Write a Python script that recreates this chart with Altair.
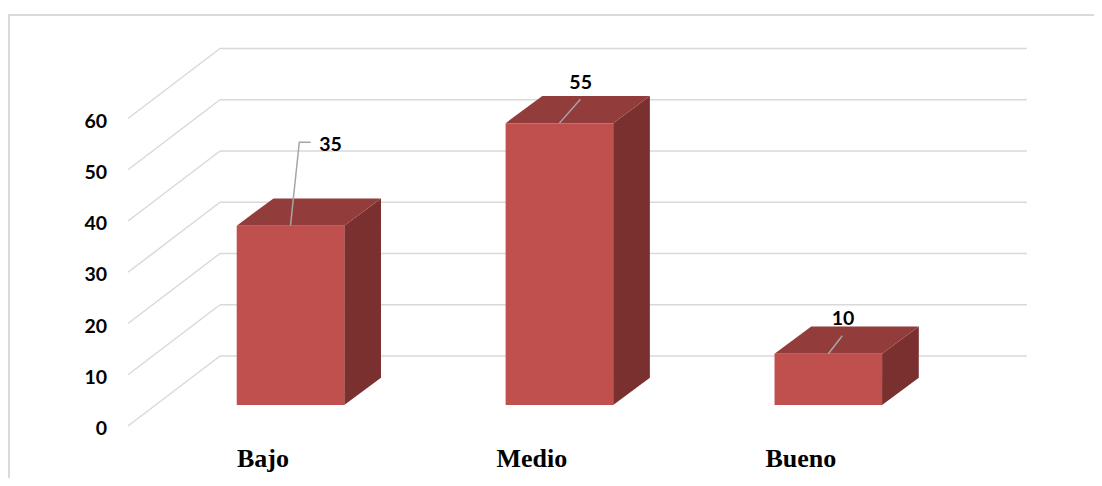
import altair as alt
import pandas as pd

# ---- data ----
categories = ["Bajo", "Medio", "Bueno"]
values = [35, 55, 10]
y_ticks = [0, 10, 20, 30, 40, 50, 60]

# ---- style constants (expressed in axis units) ----
BAR_HALF = 0.2          # half bar width (category units)
DEPTH_X = 0.1365        # bar depth, horizontal
DEPTH_Y = 5.3           # bar depth, vertical
FRONT_X, FRONT_DY = -0.6043, -4.1   # front edge of the wall plane
BACK_X, BACK_DY = -0.2622, 9.56     # back wall plane
WALL_END = 2.7386
TICK_LABEL_X = -0.6824
CAT_DX, CAT_Y = -0.1023, -12.16
label_dx = [0.149, 0.079, 0.055]
label_dy = [15.8, 7.9, 6.8]
leader_pts = [
    [(0, 0), (0.0327, 16.26), (0.0751, 16.26)],
    [(0, 0), (0.0781, 4.65)],
    [(0, 0), (0.052, 3.52)],
]

FRONT_COLOR = "#C0504D"
TOP_COLOR = "#923C3B"
SIDE_COLOR = "#7B3030"
GRID_COLOR = "#D9D9D9"

W, H = 1086, 464
xs = alt.Scale(domain=[0, 2], range=[282.5, 820.3], nice=False, zero=False)
ys = alt.Scale(domain=[0, 60], range=[391, 83.5], nice=False, zero=False)

def X(f):
    return alt.X(f, type="quantitative", scale=xs, axis=None)

def Y(f):
    return alt.Y(f, type="quantitative", scale=ys, axis=None)

# ---- tables ----
grid = pd.DataFrame({"v": y_ticks})
grid["yb"] = grid["v"] + BACK_DY
grid["yf"] = grid["v"] + FRONT_DY
grid["xb0"] = BACK_X
grid["xb1"] = WALL_END
grid["xf"] = FRONT_X
grid["xl"] = TICK_LABEL_X
grid["lab"] = grid["v"].astype(str)

bars = pd.DataFrame({"cat": categories, "v": values})
bars["i"] = range(len(categories))
bars["x0"] = bars["i"] - BAR_HALF
bars["x1"] = bars["i"] + BAR_HALF
bars["zero"] = 0
bars["lx"] = bars["i"] + pd.Series(label_dx)
bars["ly"] = bars["v"] + pd.Series(label_dy)
bars["lab"] = bars["v"].astype(str)
bars["cx"] = bars["i"] + CAT_DX
bars["cy"] = CAT_Y

top_rows, side_rows, lead_rows = [], [], []
for i, (c, v) in enumerate(zip(categories, values)):
    top_rows.append({"cat": c, "y": v, "xl": i - BAR_HALF, "xr": i + BAR_HALF})
    top_rows.append({"cat": c, "y": v + DEPTH_Y, "xl": i - BAR_HALF + DEPTH_X, "xr": i + BAR_HALF + DEPTH_X})
    side_rows.append({"cat": c, "x": i + BAR_HALF, "yt": v, "yb": 0})
    side_rows.append({"cat": c, "x": i + BAR_HALF + DEPTH_X, "yt": v + DEPTH_Y, "yb": DEPTH_Y})
    for k, (dx, dy) in enumerate(leader_pts[i]):
        lead_rows.append({"cat": c, "k": k, "x": i + dx, "y": v + dy})
top = pd.DataFrame(top_rows)
side = pd.DataFrame(side_rows)
lead = pd.DataFrame(lead_rows)

# ---- layers ----
back_grid = alt.Chart(grid).mark_rule(color=GRID_COLOR, strokeWidth=1.5).encode(
    x=X("xb0"), x2="xb1", y=Y("yb"))
diag = alt.Chart(grid).mark_rule(color=GRID_COLOR, strokeWidth=1.5).encode(
    x=X("xf"), x2="xb0", y=Y("yf"), y2="yb")
tick_labels = alt.Chart(grid).mark_text(
    font="Lato", fontWeight="bold", fontSize=19.5, align="right", baseline="middle", dy=3, color="black"
).encode(x=X("xl"), y=Y("yf"), text="lab:N")

front = alt.Chart(bars).mark_rect(color=FRONT_COLOR).encode(
    x=X("x0"), x2="x1", y=Y("zero"), y2="v")
top_face = alt.Chart(top).mark_area(orient="horizontal", color=TOP_COLOR).encode(
    y=Y("y"), x=X("xl"), x2="xr", detail="cat:N")
side_face = alt.Chart(side).mark_area(orient="vertical", color=SIDE_COLOR).encode(
    x=X("x"), y=Y("yt"), y2="yb", detail="cat:N")

leaders = alt.Chart(lead).mark_line(color="#A6A6A6", strokeWidth=1.5).encode(
    x=X("x"), y=Y("y"), detail="cat:N", order="k:Q")
value_labels = alt.Chart(bars).mark_text(
    font="Lato", fontWeight="bold", fontSize=19.5, align="center", baseline="middle", color="black"
).encode(x=X("lx"), y=Y("ly"), text="lab:N")
cat_labels = alt.Chart(bars).mark_text(
    font="Liberation Serif", fontWeight="bold", fontSize=26, align="center", baseline="alphabetic", color="black"
).encode(x=X("cx"), y=Y("cy"), text="cat:N")

border_left = alt.Chart(grid).mark_rule(color=GRID_COLOR, strokeWidth=1.5).encode(
    x=alt.value(0.75), y=alt.value(0), y2=alt.value(H))
border_top = alt.Chart(grid).mark_rule(color=GRID_COLOR, strokeWidth=1.5).encode(
    y=alt.value(0.75), x=alt.value(0), x2=alt.value(W))

chart = alt.layer(
    border_left, border_top, back_grid, diag, tick_labels,
    side_face, top_face, front, leaders, value_labels, cat_labels
).properties(
    width=W, height=H,
    autosize=alt.AutoSizeParams(type="none"),
    padding={"left": 0, "top": 6, "right": 0, "bottom": 0},
    background="white",
).configure_view(strokeWidth=0)

chart.save("out.html", embed_options={"renderer": "svg", "actions": False})
